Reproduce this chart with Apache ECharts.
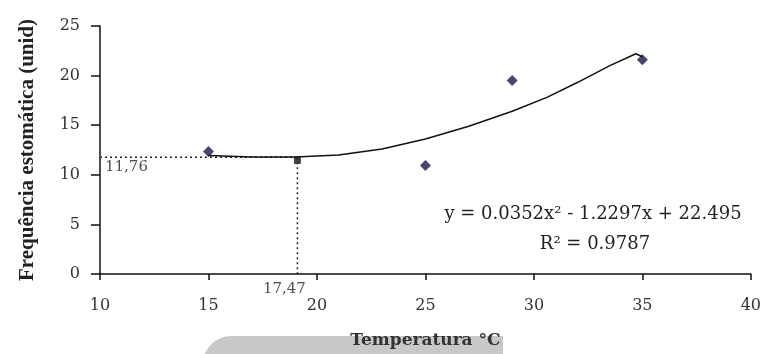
<!DOCTYPE html>
<html lang="pt">
<head>
    <meta charset="UTF-8">
    <title>Frequência estomática</title>
    <style>
        html, body { margin: 0; padding: 0; background: #fff; }
        #main { width: 764px; height: 354px; }
    </style>
    <script src="https://cdn.jsdelivr.net/npm/echarts@6/dist/echarts.min.js"></script>
</head>
<body>
    <div id="main"></div>
    <script>
        // pontos observados (temperatura, frequência)
        var obsX = [15, 25, 29, 35];
        var obsY = [12.35, 10.95, 19.5, 21.6];

        // ponto mínimo da curva (desenhado como quadrado preto)
        var minX = 19.1;
        var minY = 11.45;
        var minLabelX = '17,47';
        var minLabelY = '11,76';
        var minLineY = 11.76;

        // linha de tendência
        var trendX = [15, 17, 19, 21, 23, 25, 27, 29, 30.6, 32, 33.5, 34.7, 35];
        var trendY = [11.95, 11.8, 11.8, 12.0, 12.6, 13.6, 14.9, 16.4, 17.8, 19.3, 21.0, 22.2, 21.9];

        var eqText = 'y = 0.0352x² - 1.2297x + 22.495';
        var r2Text = 'R² = 0.9787';

        var serif = '"DejaVu Serif", "Liberation Serif", serif';
        var times = '"Liberation Serif", serif';

        var pts = [];
        for (var i = 0; i < obsX.length; i++) pts.push([obsX[i], obsY[i]]);
        var trend = [];
        for (var j = 0; j < trendX.length; j++) trend.push([trendX[j], trendY[j]]);

        var chart = echarts.init(document.getElementById('main'));
        var option = {
            animation: false,
            grid: { left: 100, right: 12, top: 26, bottom: 79 },
            xAxis: {
                type: 'value', min: 10, max: 40, interval: 5,
                name: 'Temperatura °C', nameLocation: 'middle', nameGap: 58,
                nameTextStyle: { fontFamily: serif, fontWeight: 'bold', fontSize: 17, color: '#333' },
                axisLine: { lineStyle: { color: '#111', width: 1.5 } },
                axisTick: { length: 6, lineStyle: { color: '#111', width: 1.5 } },
                axisLabel: { fontFamily: serif, fontSize: 16, color: '#333', margin: 24 },
                splitLine: { show: false }
            },
            yAxis: {
                type: 'value', min: 0, max: 25, interval: 5,
                name: 'Frequência estomática (unid)', nameLocation: 'middle', nameGap: 62,
                nameTextStyle: { fontFamily: times, fontWeight: 'bold', fontSize: 21, color: '#222' },
                axisLine: { show: true, lineStyle: { color: '#111', width: 1.5 } },
                axisTick: { show: true, length: 9, lineStyle: { color: '#111', width: 1.5 } },
                axisLabel: { fontFamily: serif, fontSize: 16, color: '#333', margin: 20 },
                splitLine: { show: false }
            },
            graphic: [
                {
                    type: 'rect', left: 203, top: 336, z: -10,
                    shape: { width: 300, height: 30, r: [28, 0, 0, 0] },
                    style: { fill: '#c8c8c8' }
                },
                {
                    type: 'text', x: 593, y: 214,
                    style: { text: eqText, font: '18px ' + serif, fill: '#222',
                             align: 'center', verticalAlign: 'middle',
                             textAlign: 'center', textVerticalAlign: 'middle' }
                },
                {
                    type: 'text', x: 595, y: 244,
                    style: { text: r2Text, font: '18px ' + serif, fill: '#222',
                             align: 'center', verticalAlign: 'middle',
                             textAlign: 'center', textVerticalAlign: 'middle' }
                }
            ],
            series: [
                {
                    type: 'line', data: [[10, minLineY], [minX, minLineY]],
                    symbol: 'none', silent: true,
                    lineStyle: { color: '#222', width: 1.5, type: [2, 3] }
                },
                {
                    type: 'line', data: [[minX, minLineY], [minX, 0]],
                    symbol: 'none', silent: true,
                    lineStyle: { color: '#222', width: 1.5, type: [2, 3] }
                },
                {
                    type: 'line', data: trend, symbol: 'none', smooth: false,
                    lineStyle: { color: '#111', width: 1.5 }
                },
                {
                    type: 'scatter', data: pts, symbol: 'diamond', symbolSize: 11,
                    itemStyle: { color: '#1a1848' }
                },
                {
                    type: 'scatter', data: [[minX, minY]], symbol: 'rect', symbolSize: 7,
                    itemStyle: { color: '#111' }
                },
                {
                    type: 'scatter', symbolSize: 0, silent: true,
                    data: [
                        { value: [10, minLineY], label: { formatter: minLabelY, position: 'right', offset: [0, 10] } },
                        { value: [minX, 0], label: { formatter: minLabelX, position: 'bottom', offset: [-13, 3] } }
                    ],
                    label: { show: true, fontFamily: serif, fontSize: 15, color: '#222' }
                }
            ]
        };
        chart.setOption(option);
    </script>
</body>
</html>
